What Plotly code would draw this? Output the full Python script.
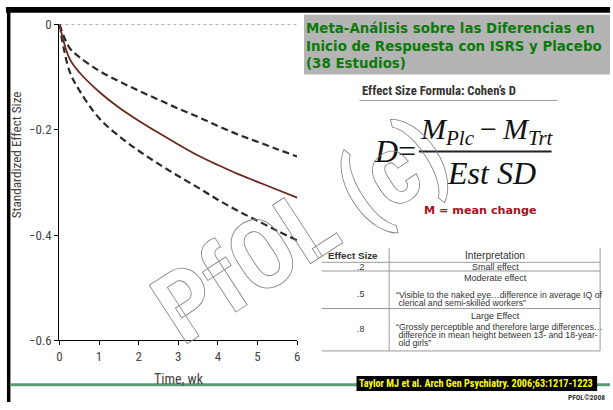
import plotly.graph_objects as go

W, H = 613, 410

# ---- data ----
weeks = [0, 0.25, 0.5, 1, 1.5, 2, 2.5, 3, 3.5, 4, 4.5, 5, 5.5, 6]
effect_mean = [0, -0.064, -0.091, -0.128, -0.158, -0.183, -0.206, -0.228, -0.249, -0.267, -0.284, -0.299, -0.314, -0.329]
effect_upper = [0, -0.044, -0.062, -0.088, -0.108, -0.126, -0.143, -0.160, -0.176, -0.193, -0.209, -0.223, -0.237, -0.251]
effect_lower = [0, -0.088, -0.125, -0.178, -0.212, -0.240, -0.265, -0.288, -0.310, -0.333, -0.354, -0.373, -0.392, -0.410]
zero_line = [0] * len(weeks)

y_tickvals = [0, -0.2, -0.4, -0.6]
y_ticktext = ["0", "\u22120.2", "\u22120.4", "\u22120.6"]
x_tickvals = [0, 1, 2, 3, 4, 5, 6]

title_lines = ["Meta-Análisis sobre las Diferencias en",
               "Inicio de Respuesta con ISRS y Placebo",
               "(38 Estudios)"]

table_header = ["Effect Size", "Interpretation"]
table_sizes = [".2", ".5", ".8"]
table_labels = ["Small effect", "Moderate effect", "Large Effect"]
table_quotes = [[],
                ["\u201cVisible to the naked eye\u2026difference in average IQ of",
                 " clerical and semi-skilled workers\u201d"],
                ["\u201cGrossly perceptible and therefore large differences\u2026",
                 " difference in mean height between 13- and 18-year-",
                 " old girls\u201d"]]
citation = "Taylor MJ et al. Arch Gen Psychiatry. 2006;63:1217-1223"


def px(x):
    return x / W


def py(y):
    return 1 - y / H


COND = "Roboto Condensed, Liberation Sans, Arial"
SANS = "Liberation Sans, Arial"

fig = go.Figure()
fig.add_trace(go.Scatter(x=weeks, y=zero_line, mode="lines",
                         line=dict(color="#9a9a9a", width=1.5, dash="3px,3px"), hoverinfo="skip"))
fig.add_trace(go.Scatter(x=weeks, y=effect_upper, mode="lines", line_shape="spline",
                         line=dict(color="#2a2a2a", width=2.2, dash="7px,4px")))
fig.add_trace(go.Scatter(x=weeks, y=effect_lower, mode="lines", line_shape="spline",
                         line=dict(color="#2a2a2a", width=2.2, dash="7px,4px")))
fig.add_trace(go.Scatter(x=weeks, y=effect_mean, mode="lines", line_shape="spline",
                         line=dict(color="#6a2a1e", width=1.8)))

shapes = []
annotations = []

# black slide borders
shapes.append(dict(type="rect", xref="paper", yref="paper", x0=px(3), x1=px(613), y0=py(6), y1=py(0),
                   fillcolor="black", line_width=0, layer="above"))
shapes.append(dict(type="rect", xref="paper", yref="paper", x0=px(4), x1=px(7.5), y0=py(410), y1=py(0),
                   fillcolor="black", line_width=0, layer="above"))
# green bottom line
shapes.append(dict(type="line", xref="paper", yref="paper", x0=px(7), x1=px(613), y0=py(392), y1=py(392),
                   line=dict(color="#5a9b76", width=3)))
# citation box
shapes.append(dict(type="rect", xref="paper", yref="paper", x0=px(357), x1=px(600), y0=py(398.5), y1=py(383),
                   fillcolor="black", line_width=0))
annotations.append(dict(x=px(478), y=py(391), xref="paper", yref="paper", text="<b>" + citation + "</b>",
                        showarrow=False, font=dict(family=COND, size=10.2, color="#ffff00"),
                        xanchor="center", yanchor="middle"))
annotations.append(dict(x=px(610), y=py(405), xref="paper", yref="paper", text="<b>PFOL\u00a92008</b>",
                        showarrow=False, font=dict(family=COND, size=7.5, color="#333"),
                        xanchor="right", yanchor="middle"))

# title box
shapes.append(dict(type="rect", xref="paper", yref="paper", x0=px(304), x1=px(613), y0=py(70), y1=py(8),
                   fillcolor="#b4b4b4", line_width=0))
for i, line in enumerate(title_lines):
    annotations.append(dict(x=px(304), y=py(22 + 18.5 * i), xref="paper", yref="paper", text="<b>" + line + "</b>",
                            showarrow=False, font=dict(family="DejaVu Sans", size=13.4, color="#0b7a0b"),
                            xanchor="left", yanchor="middle"))

# formula
annotations.append(dict(x=px(361), y=py(87), xref="paper", yref="paper",
                        text="<b>Effect Size Formula: Cohen\u2019s D</b>", showarrow=False,
                        font=dict(family=COND, size=12.7, color="#333"), xanchor="left", yanchor="middle"))
shapes.append(dict(type="line", xref="paper", yref="paper", x0=px(360), x1=px(560), y0=py(97), y1=py(97),
                   line=dict(color="#999", width=1)))
annotations.append(dict(x=px(373), y=py(149), xref="paper", yref="paper", text="<i>D</i>=",
                        showarrow=False, font=dict(family="Liberation Serif", size=32, color="#111"),
                        xanchor="left", yanchor="middle"))
annotations.append(dict(x=px(489), y=py(129), xref="paper", yref="paper",
                        text="<i>M<sub>Plc</sub></i>\u2009\u2212\u2009<i>M<sub>Trt</sub></i>",
                        showarrow=False, font=dict(family="Liberation Serif", size=30, color="#111"),
                        xanchor="center", yanchor="middle"))
shapes.append(dict(type="line", xref="paper", yref="paper", x0=px(420), x1=px(554), y0=py(150), y1=py(150),
                   line=dict(color="#222", width=2)))
annotations.append(dict(x=px(493), y=py(172), xref="paper", yref="paper", text="<i>Est SD</i>",
                        showarrow=False, font=dict(family="Liberation Serif", size=32, color="#111"),
                        xanchor="center", yanchor="middle"))
annotations.append(dict(x=px(482), y=py(211), xref="paper", yref="paper", text="<b>M = mean change</b>",
                        showarrow=False, font=dict(family="DejaVu Sans", size=11.2, color="#a3141e"),
                        xanchor="center", yanchor="middle"))

# table
tcol = "#9a9a9a"
for yy in [265, 274, 313, 357]:
    shapes.append(dict(type="line", xref="paper", yref="paper", x0=px(322), x1=px(603), y0=py(yy), y1=py(yy),
                       line=dict(color=tcol, width=1)))
for xx in [390, 603]:
    shapes.append(dict(type="line", xref="paper", yref="paper", x0=px(xx), x1=px(xx), y0=py(357), y1=py(250),
                       line=dict(color=tcol, width=1)))
annotations.append(dict(x=px(353), y=py(257.5), xref="paper", yref="paper", text="<b>" + table_header[0] + "</b>",
                        showarrow=False, font=dict(family=SANS, size=9.8, color="#333"),
                        xanchor="center", yanchor="middle"))
annotations.append(dict(x=px(497), y=py(257.5), xref="paper", yref="paper", text=table_header[1],
                        showarrow=False, font=dict(family=SANS, size=10.2, color="#333"),
                        xanchor="center", yanchor="middle"))
size_y = [269.5, 298, 334]
label_y = [269.5, 281, 320.5]
quote_y0 = [0, 299, 332]
for i in range(3):
    annotations.append(dict(x=px(362), y=py(size_y[i]), xref="paper", yref="paper", text=table_sizes[i],
                            showarrow=False, font=dict(family=SANS, size=9, color="#333"),
                            xanchor="center", yanchor="middle"))
    annotations.append(dict(x=px(497), y=py(label_y[i]), xref="paper", yref="paper", text=table_labels[i],
                            showarrow=False, font=dict(family=SANS, size=9, color="#333"),
                            xanchor="center", yanchor="middle"))
    for j, q in enumerate(table_quotes[i]):
        annotations.append(dict(x=px(395), y=py(quote_y0[i] + 8.4 * j), xref="paper", yref="paper", text=q,
                                showarrow=False, font=dict(family=SANS, size=8.7, color="#333"),
                                xanchor="left", yanchor="middle", align="left"))

# axis titles
annotations.append(dict(x=px(14), y=py(153), xref="paper", yref="paper", text="Standardized Effect Size",
                        showarrow=False, textangle=-90, font=dict(family=COND, size=13.2, color="#444"),
                        xanchor="center", yanchor="middle"))
annotations.append(dict(x=px(178), y=py(386), xref="paper", yref="paper", text="Time, wk",
                        showarrow=False, font=dict(family=COND, size=14, color="#444"),
                        xanchor="center", yanchor="middle"))

# watermark (outlined via post_script)
annotations.append(dict(x=px(300), y=py(232), xref="paper", yref="paper", text="<b>PfOL (c)</b>",
                        showarrow=False, textangle=-33,
                        font=dict(family="Roboto Condensed", size=98, color="rgba(255,255,255,0)"),
                        xanchor="center", yanchor="middle"))

fig.update_layout(
    width=W, height=H, autosize=False,
    margin=dict(l=0, r=0, t=0, b=0),
    paper_bgcolor="white", plot_bgcolor="white",
    showlegend=False,
    shapes=shapes, annotations=annotations,
    xaxis=dict(domain=[px(57), px(297)], range=[0, 6], tickvals=x_tickvals,
               showline=True, linecolor="black", linewidth=1.3, ticks="outside", ticklen=4,
               tickcolor="black", showgrid=False, zeroline=False,
               tickfont=dict(family=COND, size=13, color="#444")),
    yaxis=dict(domain=[py(346), py(18)], range=[-0.6, 0], tickvals=y_tickvals, ticktext=y_ticktext,
               showline=True, linecolor="black", linewidth=1.3, ticks="outside", ticklen=4,
               tickcolor="black", showgrid=False, zeroline=False,
               tickfont=dict(family=COND, size=13, color="#444")),
)

post = (
    "document.body.style.margin='0';document.body.style.overflow='hidden';"
    "document.querySelectorAll('text').forEach(function(t){"
    "if(t.textContent.indexOf('PfOL')>=0){t.style.fill='none';t.style.fillOpacity='0';"
    "t.style.stroke='#808080';t.style.strokeWidth='0.8px';}});"
)
fig.write_html("out.html", config={"displayModeBar": False}, post_script=post)
